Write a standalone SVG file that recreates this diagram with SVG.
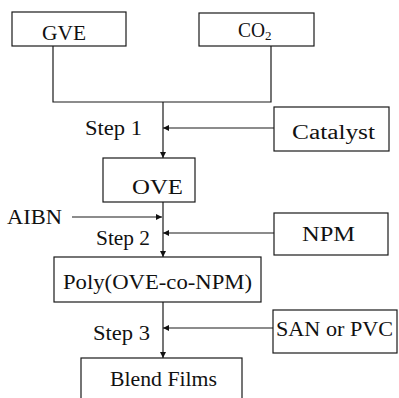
<svg xmlns="http://www.w3.org/2000/svg" width="399" height="398" viewBox="0 0 399 398">
<defs>
<style>
.box{fill:#fff;stroke:#1a1a1a;stroke-width:1.2}
.ln{fill:none;stroke:#1a1a1a;stroke-width:1.2}
.t{font-family:"Liberation Serif","Times New Roman",serif;font-size:20px;fill:#111}
</style>
<marker id="ah" viewBox="0 0 10 10" refX="10" refY="5" markerWidth="9" markerHeight="6" markerUnits="userSpaceOnUse" orient="auto">
<path d="M0,0 L10,5 L0,10 Z" fill="#111"/>
</marker>
</defs>
<rect width="399" height="398" fill="#fff"/>
<g id="connectors">
<path class="ln" d="M53,46 V102 H271 V46"/>
<path class="ln" d="M163,102 V158" marker-end="url(#ah)"/>
<path class="ln" d="M274,128 H163" marker-end="url(#ah)"/>
<path class="ln" d="M163,202 V257" marker-end="url(#ah)"/>
<path class="ln" d="M72,217 H162" marker-end="url(#ah)"/>
<path class="ln" d="M274,233 H163" marker-end="url(#ah)"/>
<path class="ln" d="M163,302 V358" marker-end="url(#ah)"/>
<path class="ln" d="M273,328 H163" marker-end="url(#ah)"/>
</g>
<g id="gve"><rect class="box" x="12" y="12" width="114" height="34"/><text class="t" x="42" y="40" textLength="44" lengthAdjust="spacingAndGlyphs">GVE</text></g>
<g id="co2"><rect class="box" x="199" y="13" width="115" height="33"/><text class="t" x="238" y="37" textLength="27" lengthAdjust="spacingAndGlyphs">CO</text><text class="t" x="265" y="40" style="font-size:13px">2</text></g>
<g id="step1"><text class="t" x="85" y="135" textLength="57" lengthAdjust="spacingAndGlyphs">Step 1</text></g>
<g id="catalyst"><rect class="box" x="274" y="107" width="115" height="44"/><text class="t" x="292" y="139" textLength="83" lengthAdjust="spacingAndGlyphs">Catalyst</text></g>
<g id="ove"><rect class="box" x="103" y="158" width="92" height="44"/><text class="t" x="132" y="194" textLength="51" lengthAdjust="spacingAndGlyphs">OVE</text></g>
<g id="aibn"><text class="t" x="7" y="224" textLength="55" lengthAdjust="spacingAndGlyphs">AIBN</text></g>
<g id="step2"><text class="t" x="96" y="245" textLength="54" lengthAdjust="spacingAndGlyphs">Step 2</text></g>
<g id="npm"><rect class="box" x="274" y="213" width="114" height="42"/><text class="t" x="302" y="241" textLength="53" lengthAdjust="spacingAndGlyphs">NPM</text></g>
<g id="poly"><rect class="box" x="54" y="257" width="207" height="45"/><text class="t" x="63" y="289" textLength="189" lengthAdjust="spacingAndGlyphs">Poly(OVE-co-NPM)</text></g>
<g id="step3"><text class="t" x="93" y="340" textLength="57" lengthAdjust="spacingAndGlyphs">Step 3</text></g>
<g id="sanpvc"><rect class="box" x="273" y="310" width="124" height="43"/><text class="t" x="276" y="336" textLength="117" lengthAdjust="spacingAndGlyphs">SAN or PVC</text></g>
<g id="blend"><rect class="box" x="81" y="358" width="161" height="46"/><text class="t" x="110" y="386" textLength="107" lengthAdjust="spacingAndGlyphs">Blend Films</text></g>
</svg>
